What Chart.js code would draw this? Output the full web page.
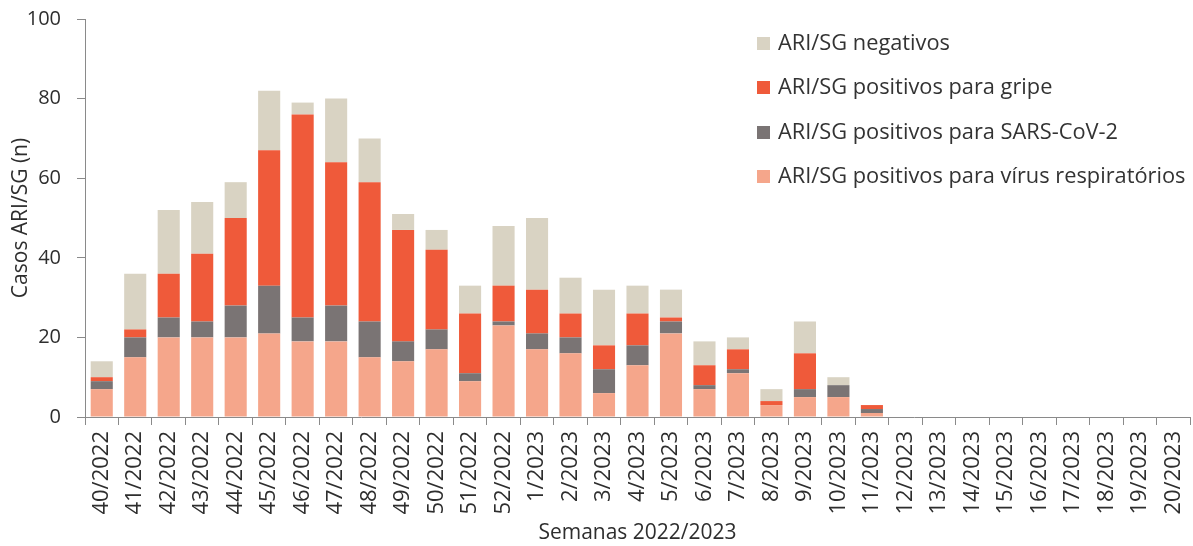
<!DOCTYPE html>
<html>
<head>
<meta charset="utf-8">
<script src="https://cdn.jsdelivr.net/npm/chart.js@4.4.0/dist/chart.umd.min.js"></script>
<style>
  html, body { margin: 0; padding: 0; background: #fff; }
  #wrap { position: relative; width: 1193px; height: 546px; }
  #legenda { position: absolute; left: 757px; top: 20px; font-family: "Open Sans", sans-serif; font-size: 21.8px; color: #333; }
  #legenda div { height: 44.3px; line-height: 44px; white-space: nowrap; }
  #legenda span { display: inline-block; width: 13px; height: 13px; margin-right: 8px; vertical-align: 0px; }
</style>
</head>
<body>
<div id="wrap">
  <canvas id="grafico" width="1193" height="546"></canvas>
  <div id="legenda"></div>
</div>
<script>
// semanas
var semanas = ['40/2022', '41/2022', '42/2022', '43/2022', '44/2022', '45/2022', '46/2022', '47/2022', '48/2022', '49/2022',
  '50/2022', '51/2022', '52/2022', '1/2023', '2/2023', '3/2023', '4/2023', '5/2023', '6/2023', '7/2023', '8/2023',
  '9/2023', '10/2023', '11/2023', '12/2023', '13/2023', '14/2023', '15/2023', '16/2023', '17/2023', '18/2023',
  '19/2023', '20/2023'];

// casos por semana
var virusRespiratorios = [7, 15, 20, 20, 20, 21, 19, 19, 15, 14, 17, 9, 23, 17, 16, 6, 13, 21, 7, 11, 3, 5, 5, 1, 0, 0, 0, 0, 0, 0, 0, 0, 0];
var sarsCov2 = [2, 5, 5, 4, 8, 12, 6, 9, 9, 5, 5, 2, 1, 4, 4, 6, 5, 3, 1, 1, 0, 2, 3, 1, 0, 0, 0, 0, 0, 0, 0, 0, 0];
var gripe = [1, 2, 11, 17, 22, 34, 51, 36, 35, 28, 20, 15, 9, 11, 6, 6, 8, 1, 5, 5, 1, 9, 0, 1, 0, 0, 0, 0, 0, 0, 0, 0, 0];
var negativos = [4, 14, 16, 13, 9, 15, 3, 16, 11, 4, 5, 7, 15, 18, 9, 14, 7, 7, 6, 3, 3, 8, 2, 0, 0, 0, 0, 0, 0, 0, 0, 0, 0];

var yTicks = [0, 20, 40, 60, 80, 100];

var fonte = '"Open Sans", sans-serif';
var corTexto = '#2e2e2e';
var corEixo = '#8a8a8a';

var series = [
  { label: 'ARI/SG positivos para vírus respiratórios', data: virusRespiratorios, color: '#f5a68b' },
  { label: 'ARI/SG positivos para SARS-CoV-2', data: sarsCov2, color: '#7a7474' },
  { label: 'ARI/SG positivos para gripe', data: gripe, color: '#ef5a3a' },
  { label: 'ARI/SG negativos', data: negativos, color: '#d9d3c3' }
];

var datasets = [];
for (s of series) {
  datasets.push({
    label: s.label,
    data: s.data,
    backgroundColor: s.color,
    borderWidth: 0,
    barPercentage: 0.66,
    categoryPercentage: 1
  });
}

new Chart(document.getElementById('grafico'), {
  type: 'bar',
  data: { labels: semanas, datasets: datasets },
  options: {
    responsive: false,
    animation: false,
    layout: { padding: { top: 19, right: 3, left: 0, bottom: 0 } },
    plugins: { legend: { display: false }, tooltip: { enabled: false } },
    scales: {
      x: {
        stacked: true,
        grid: { display: true, drawOnChartArea: false, offset: true, tickLength: 8, color: corEixo },
        border: { display: true, color: corEixo },
        ticks: { minRotation: 90, maxRotation: 90, autoSkip: false, color: corTexto, padding: 6, font: { family: fonte, size: 22 } },
        title: { display: true, text: 'Semanas 2022/2023', color: corTexto, padding: { top: 0, bottom: 0 }, font: { family: fonte, size: 21 } },
        afterFit: function (scale) {
          scale.height = 546 - 417;
          scale.paddingLeft = 0;
          scale.paddingRight = 0;
        }
      },
      y: {
        stacked: true,
        min: 0,
        max: 100,
        afterBuildTicks: function (scale) { scale.ticks = yTicks.map(function (v) { return { value: v }; }); },
        grid: { display: true, drawOnChartArea: false, tickLength: 8, color: corEixo },
        border: { display: true, color: corEixo },
        ticks: { color: corTexto, padding: 16, font: { family: fonte, size: 20 } },
        title: { display: true, text: 'Casos ARI/SG (n)', color: corTexto, padding: { top: 8, bottom: 0 }, font: { family: fonte, size: 21 } },
        afterFit: function (scale) {
          scale.width = 85;
          scale.paddingTop = 0;
          scale.paddingBottom = 0;
        }
      }
    }
  }
});

// legenda (ordem inversa)
var html = '';
for (var i = series.length - 1; i >= 0; i--) {
  html += '<div><span style="background:' + series[i].color + '"></span>' + series[i].label + '</div>';
}
document.getElementById('legenda').innerHTML = html;
</script>
</body>
</html>
